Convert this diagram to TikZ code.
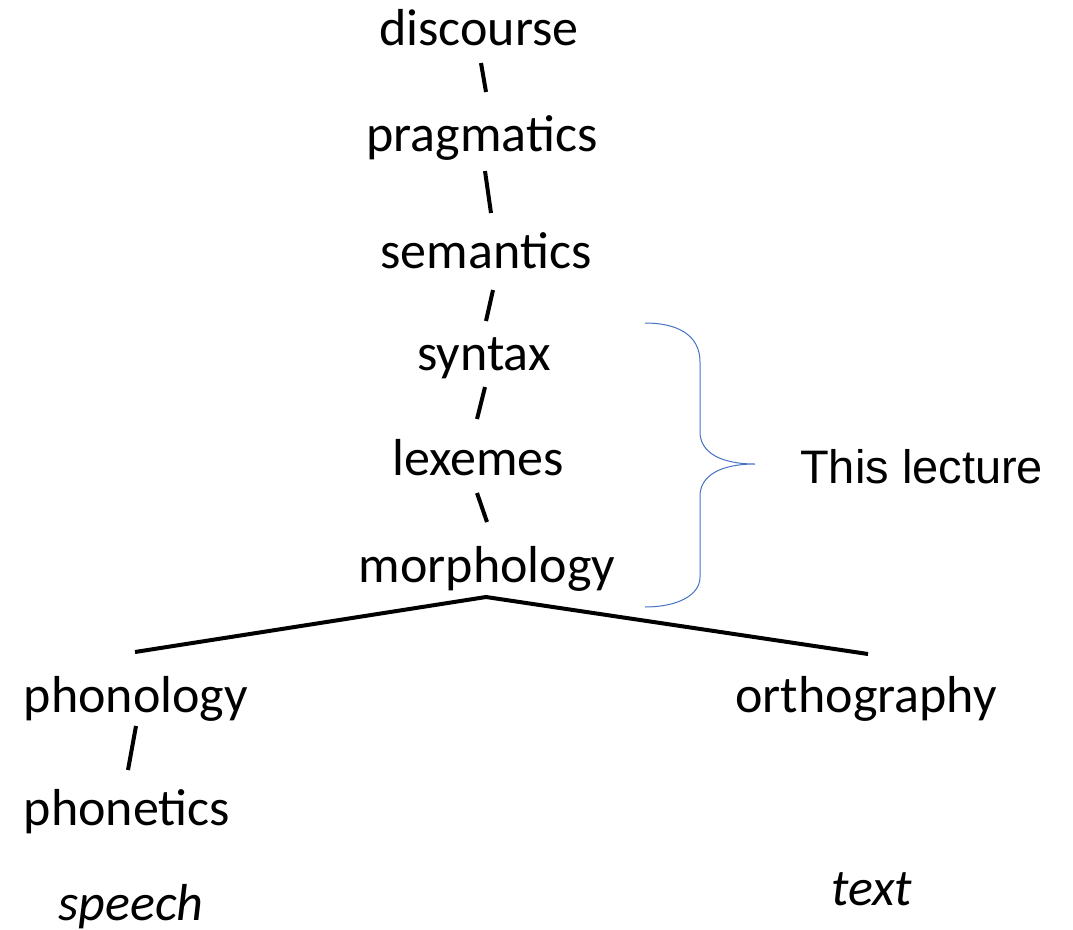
\documentclass[tikz,border=0pt]{standalone}
\usepackage{fontspec}
\setmainfont{Carlito}
\newfontfamily\arialfont{Liberation Sans}
\definecolor{braceblue}{RGB}{68,114,196}
\begin{document}
\begin{tikzpicture}[x=1pt,y=-1pt,
  level/.style={anchor=base,inner sep=0pt,font=\fontsize{52}{60}\selectfont},
  medium/.style={anchor=base,inner sep=0pt,font=\fontsize{52}{60}\selectfont\itshape},
  link/.style={line width=4pt,black},
  note/.style={anchor=base west,inner sep=0pt,font=\arialfont\fontsize{47}{56}\selectfont}]
\useasboundingbox (0,0) rectangle (1073,929);

% levels of linguistic structure
\node[level] (disc)  at (479,45)  {discourse};
\node[level] (prag)  at (482,151) {pragmatics};
\node[level] (sem)   at (486,268) {semantics};
\node[level] (syn)   at (484,370) {syntax};
\node[level] (lex)   at (478,475) {lexemes};
\node[level] (morph) at (487,582) {morphology};
\node[level] (phon)  at (136,712) {phonology};
\node[level] (phont) at (127,825) {phonetics};
\node[level] (orth)  at (866,712) {orthography};
\node[medium] (speech) at (131,920) {speech};
\node[medium] (text)   at (872,905) {text};
\node[note] (lect) at (800,483) {This lecture};

% end points of the slash connectors
\coordinate (d1) at (481,63);  \coordinate (p1) at (486,92);
\coordinate (p2) at (485,171); \coordinate (s2) at (491,213);
\coordinate (s3) at (493,290); \coordinate (y3) at (486,321);
\coordinate (y4) at (485,387); \coordinate (l4) at (477,419);
\coordinate (l5) at (477,493); \coordinate (m5) at (487,522);
\coordinate (n6) at (136,726); \coordinate (t6) at (128,770);
\coordinate (apex) at (486,597);
\coordinate (left) at (135,652);
\coordinate (right) at (868,654);

\draw[link] (d1) -- (p1);
\draw[link] (p2) -- (s2);
\draw[link] (s3) -- (y3);
\draw[link] (y4) -- (l4);
\draw[link] (l5) -- (m5);
\draw[link] (n6) -- (t6);
\draw[link,line join=miter] (left) -- (apex) -- (right);

% curly brace grouping syntax, lexemes and morphology
\coordinate (btop) at (645,323);
\coordinate (bbot) at (645,607);
\coordinate (btip) at (755,464);
\draw[braceblue,line width=1pt]
  (btop) .. controls (676,323) and (700,334) .. (700,362)
  -- (700,432) .. controls (700,452) and (720,464) .. (btip)
  .. controls (720,464) and (700,476) .. (700,496)
  -- (700,577) .. controls (700,596) and (676,607) .. (bbot);
\end{tikzpicture}
\end{document}
